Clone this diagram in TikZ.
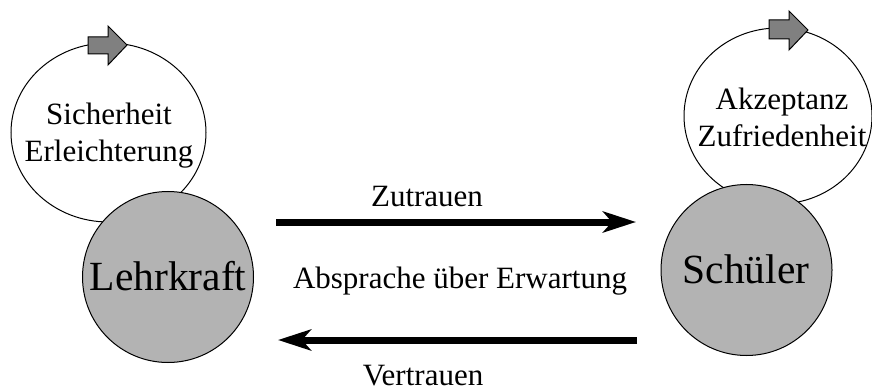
\documentclass[tikz,border=0pt]{standalone}
\usepackage{fontspec}
\setmainfont{Liberation Serif}
\usetikzlibrary{shapes.geometric,arrows.meta}
\definecolor{circgray}{HTML}{B3B3B3}
\definecolor{blockgray}{HTML}{808080}
\tikzset{
  loopell/.style={ellipse, draw=black, line width=1pt, fill=white, inner sep=0pt},
  actor/.style={circle, draw=black, line width=1pt, fill=circgray, inner sep=0pt, minimum size=171pt},
  bigtxt/.style={font=\fontsize{41.5}{48}\selectfont, inner sep=0pt},
  smalltxt/.style={font=\fontsize{31}{37}\selectfont, inner sep=0pt, align=center},
  blockarrow/.style={draw=black, line width=1pt, fill=blockgray, line join=miter},
  flow/.style={line width=7pt, -{Stealth[length=33pt, width=21pt, inset=9pt]}}
}
\begin{document}
\begin{tikzpicture}[x=1pt,y=-1pt]
\useasboundingbox (0,0) rectangle (872,390);
% left loop
\node[loopell, minimum width=195pt, minimum height=179pt] (lloop) at (108.5,132.5) {};
\node[smalltxt, anchor=base] (ltxtA) at (109,125) {Sicherheit};
\node[smalltxt, anchor=base] (ltxtB) at (109,162) {Erleichterung};
\draw[blockarrow] (88,37) -- (108,37) -- (108,26) -- (127,45) -- (108,65) -- (108,54) -- (88,54) -- cycle;
% right loop
\node[loopell, minimum width=188pt, minimum height=176pt] (rloop) at (778,116) {};
\node[smalltxt, anchor=base] (rtxtA) at (782,110) {Akzeptanz};
\node[smalltxt, anchor=base] (rtxtB) at (782,147) {Zufriedenheit};
\draw[blockarrow] (769,20) -- (789,20) -- (789,11) -- (808,30) -- (789,50) -- (789,39) -- (769,39) -- cycle;
% actors
\node[actor] (lehr) at (168,277) {};
\node[bigtxt, anchor=base] (lehrtxt) at (168,290) {Lehrkraft};
\node[actor] (schu) at (746.5,270) {};
\node[bigtxt, anchor=base] (schutxt) at (746,283) {Schüler};
% flows
\coordinate (zA) at (276,222);
\coordinate (zB) at (636,222);
\coordinate (vA) at (637,340);
\coordinate (vB) at (278,340);
\draw[flow] (zA) -- (zB);
\draw[flow] (vA) -- (vB);
\node[smalltxt, anchor=base] (zutxt) at (427,207) {Zutrauen};
\node[smalltxt, anchor=base] (abtxt) at (460,288) {Absprache über Erwartung};
\node[smalltxt, anchor=base] (vetxt) at (423,385) {Vertrauen};
\end{tikzpicture}
\end{document}
